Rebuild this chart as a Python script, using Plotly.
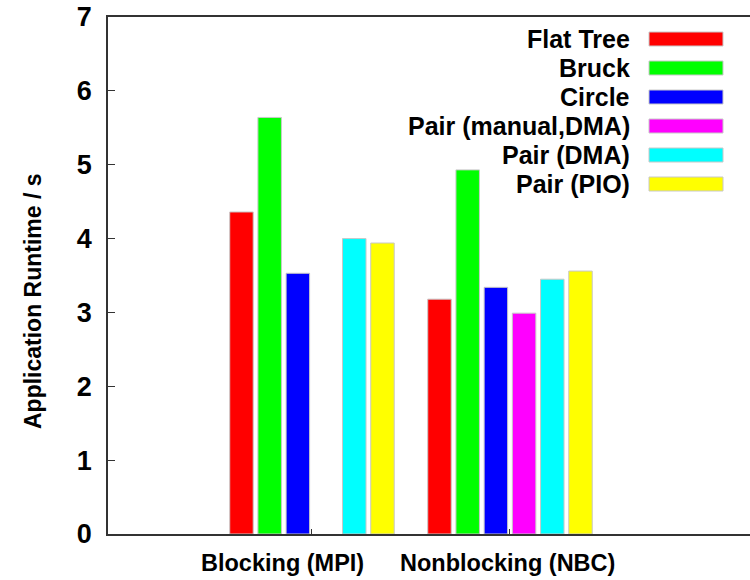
import plotly.graph_objects as go

categories = ["Blocking (MPI)", "Nonblocking (NBC)"]
series_names = ["Flat Tree", "Bruck", "Circle", "Pair (manual,DMA)", "Pair (DMA)", "Pair (PIO)"]
flat_tree = [4.36, 3.18]
bruck = [5.64, 4.93]
circle = [3.53, 3.34]
pair_manual_dma = [None, 2.99]
pair_dma = [4.00, 3.45]
pair_pio = [3.94, 3.56]
series_values = [flat_tree, bruck, circle, pair_manual_dma, pair_dma, pair_pio]
colors = ["#ff0000", "#00ff00", "#0000ff", "#ff00ff", "#00ffff", "#ffff00"]
y_ticks = [0, 1, 2, 3, 4, 5, 6, 7]
label_shift = [-29, -2]

FONT = "Liberation Sans, Arial, sans-serif"

fig = go.Figure()
xs = list(range(len(categories)))
for name, vals, col in zip(series_names, series_values, colors):
    fig.add_trace(go.Bar(
        x=xs, y=vals, name=name,
        marker=dict(color=col, line=dict(color="#c8c8c8", width=1)),
        showlegend=False,
    ))

L, T, W, H = 108, 17, 642, 517
def px_x(p):
    return (p - L) / W
def px_y(p):
    return (T + H - p) / H

# gnuplot-style legend: right-aligned text with colour swatch at its right
row0, pitch = 39, 29
for i, (name, col) in enumerate(zip(series_names, colors)):
    cy = row0 + i * pitch
    fig.add_annotation(
        x=px_x(632), y=px_y(cy), xref="paper", yref="paper",
        text="<b>%s</b>" % name, showarrow=False, xanchor="right", yanchor="middle",
        font=dict(family=FONT, size=25, color="black"),
    )
    fig.add_shape(
        type="rect", xref="paper", yref="paper",
        x0=px_x(649), x1=px_x(723), y0=px_y(cy - 7), y1=px_y(cy + 7),
        fillcolor=col, line=dict(color="#c8c8c8", width=1),
    )

# category labels under the axis
for xi, cat, sh in zip(xs, categories, label_shift):
    fig.add_annotation(
        x=xi, y=px_y(563), xref="x", yref="paper", xshift=sh,
        text="<b>%s</b>" % cat, showarrow=False, xanchor="center", yanchor="middle",
        font=dict(family=FONT, size=23.5, color="black"),
    )

fig.add_annotation(
    x=px_x(33), y=px_y(301), xref="paper", yref="paper",
    text="<b>Application Runtime / s</b>", showarrow=False, textangle=-90,
    xanchor="center", yanchor="middle",
    font=dict(family=FONT, size=23, color="black"),
)

fig.update_layout(
    width=750, height=580,
    margin=dict(l=L, r=0, t=T, b=580 - T - H),
    paper_bgcolor="white", plot_bgcolor="white",
    barmode="group", bargap=0.1455, bargroupgap=0.167,
    font=dict(family=FONT, color="black"),
)
fig.update_xaxes(
    range=[-1.03, 2.212], tickvals=xs, showticklabels=False,
    showline=True, linecolor="#333333", linewidth=1.5, mirror=True,
    ticks="inside", ticklen=5, tickcolor="#333333",
    showgrid=False, zeroline=False, automargin=False,
)
fig.update_yaxes(
    range=[0, 7], tickvals=y_ticks, ticktext=["<b>%d</b>" % v for v in y_ticks],
    showline=True, linecolor="#333333", linewidth=1.5, mirror=False,
    ticks="inside", ticklen=7, tickcolor="#333333",
    showgrid=False, zeroline=False, ticklabelstandoff=9, automargin=False,
    tickfont=dict(family=FONT, size=27, color="black"),
)

fig.write_html("out.html")
